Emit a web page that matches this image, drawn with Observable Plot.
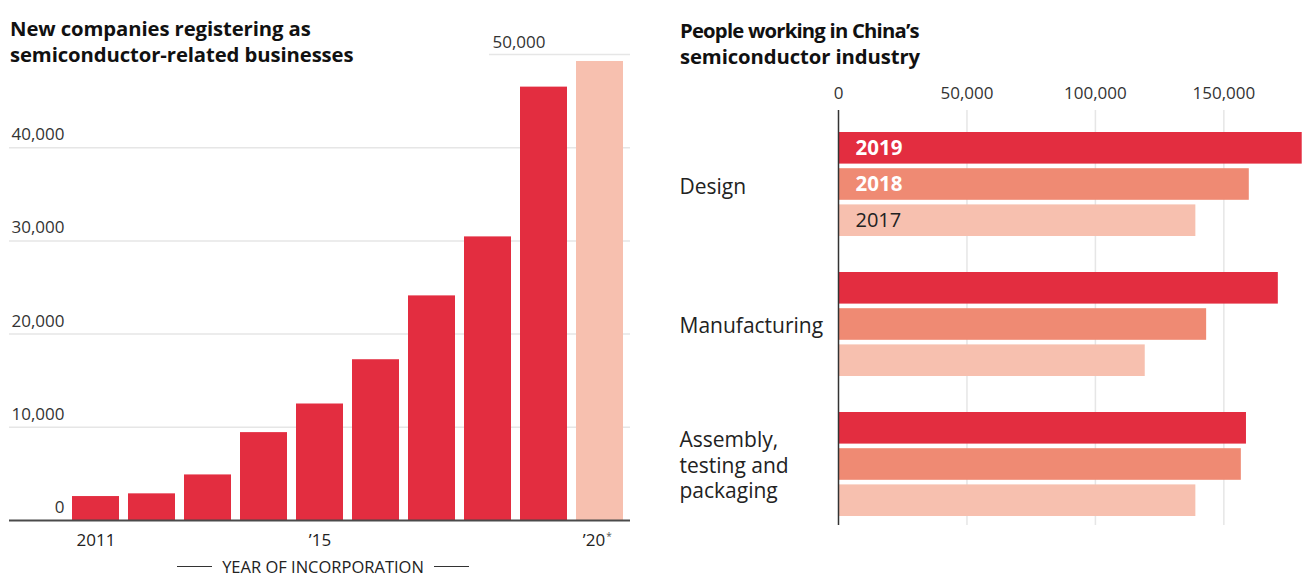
<!DOCTYPE html>
<html>
<head>
<meta charset="utf-8">
<script src="https://cdn.jsdelivr.net/npm/d3@7"></script>
<script src="https://cdn.jsdelivr.net/npm/@observablehq/plot@0.6"></script>
<style>
  html, body { margin: 0; padding: 0; background: #fff; }
  #root { position: relative; width: 1304px; height: 578px; overflow: hidden; font-family: "Open Sans", sans-serif; }
  .title { position: absolute; font-weight: 700; font-size: 20.3px; line-height: 25.5px; color: #111; white-space: nowrap; letter-spacing: -0.1px; }
  #xtitle { position: absolute; left: 177px; top: 555px; width: 292px; height: 22px; display: flex; align-items: center; justify-content: space-between; font-size: 16.5px; color: #222; }
  #xtitle .ln { width: 35px; height: 0; border-top: 1.5px solid #333; }
  .plot { position: absolute; top: 0; }
</style>
</head>
<body>
<div id="root">
  <div class="title" style="left:10px;top:16px;">New companies registering as<br>semiconductor-related businesses</div>
  <div class="title" style="left:680px;top:18px;"><span style="letter-spacing:-0.8px">People working in China’s</span><br>semiconductor industry</div>
  <div id="xtitle"><span class="ln"></span><span>YEAR OF INCORPORATION</span><span class="ln"></span></div>
</div>
<script>
// ---------- Data: left chart ----------
const years = [2011, 2012, 2013, 2014, 2015, 2016, 2017, 2018, 2019, 2020];
const newCompanies = [2570, 2860, 4890, 9430, 12500, 17250, 24100, 30430, 46500, 49250];
const yearStatus = ["actual", "actual", "actual", "actual", "actual", "actual", "actual", "actual", "actual", "estimate"];
const leftGridTicks = [0, 10000, 20000, 30000, 40000];
const leftTopTick = 50000;
const xLabelYears = [2011, 2015, 2020];
const xLabels = ["2011", "’15", "’20"];

// ---------- Data: right chart ----------
const sectors = ["Design", "Manufacturing", "Assembly, testing and packaging"];
const sectorLabels = ["Design", "Manufacturing", "Assembly,\ntesting and\npackaging"];
const workYears = [2019, 2018, 2017];
const workers2019 = [180500, 171200, 158800];
const workers2018 = [159900, 143300, 156800];
const workers2017 = [139100, 119400, 139100];
const rightTicks = [0, 50000, 100000, 150000];

// ---------- Colours ----------
const RED = "#e32d40";
const SALMON = "#ef8a73";
const LIGHT = "#f7c0af";
const GRID = "#e6e6e6";

const fmt = d3.format(",");
const root = document.getElementById("root");
const baseStyle = { fontFamily: "Open Sans, sans-serif", fontSize: "17px", color: "#333", background: "transparent", overflow: "visible" };

// ---------- Left chart ----------
const companyRows = years.map((y, i) => ({ year: y, value: newCompanies[i], status: yearStatus[i] }));
const xLabelRows = xLabelYears.map((y, i) => ({ year: y, label: xLabels[i] }));

const left = Plot.plot({
  width: 640,
  height: 578,
  marginLeft: 9,
  marginRight: 10,
  marginTop: 54,
  marginBottom: 58,
  style: baseStyle,
  x: { type: "band", domain: years, range: [66, 630], paddingInner: 0.16, paddingOuter: 0.08, axis: null },
  y: { domain: [0, 50000], axis: null },
  color: { domain: ["actual", "estimate"], range: [RED, LIGHT] },
  marks: [
    Plot.ruleY(leftGridTicks.slice(1), { stroke: GRID, strokeWidth: 1.5 }),
    Plot.ruleY([leftTopTick], { stroke: GRID, strokeWidth: 1.5, insetLeft: 480 }),
    Plot.barY(companyRows, { x: "year", y: "value", fill: "status" }),
    Plot.ruleY([0], { stroke: "#4a4a4a", strokeWidth: 2 }),
    Plot.text(leftGridTicks, { y: d => d, text: d => fmt(d), frameAnchor: "left", dx: 55, dy: -13, textAnchor: "end", lineAnchor: "middle", fill: "#333" }),
    Plot.text([leftTopTick], { y: d => d, text: d => fmt(d), frameAnchor: "left", dx: 483, dy: -12, textAnchor: "start", lineAnchor: "middle", fill: "#333" }),
    Plot.text(xLabelRows.slice(0, 2), { x: "year", text: "label", frameAnchor: "bottom", dy: 20, lineAnchor: "middle", fill: "#222" }),
    Plot.text(xLabelRows.slice(2), { x: "year", text: "label", frameAnchor: "bottom", dx: -6, dy: 20, lineAnchor: "middle", fill: "#222" }),
    Plot.text(xLabelRows.slice(2), { x: "year", text: () => "*", frameAnchor: "bottom", dx: 9, dy: 16, fontSize: 10, lineAnchor: "middle", fill: "#555" })
  ]
});
left.classList.add("plot");
left.style.left = "0px";
root.appendChild(left);

// ---------- Right chart ----------
const workerSeries = [workers2019, workers2018, workers2017];
const workerRows = [];
workYears.forEach((yr, j) => sectors.forEach((s, i) => workerRows.push({ sector: s, year: yr, value: workerSeries[j][i] })));
const sectorRows = sectors.map((s, i) => ({ sector: s, label: sectorLabels[i] }));

const ROW_STEP = 36.2, BAR_H = 32, BAND_H = 104.4;
const yearLabelMark = (yr, j) => Plot.text([{ year: yr, sector: sectors[0] }], {
  x: () => 0, y: "sector", text: d => String(d.year),
  dx: 17, dy: (j - 1) * ROW_STEP, textAnchor: "start", lineAnchor: "middle",
  fill: j < 2 ? "#fff" : "#222", fontWeight: j < 2 ? 700 : 400, fontSize: j < 2 ? 20.5 : 20
});

const right = Plot.plot({
  width: 644,
  height: 578,
  marginLeft: 178,
  marginRight: 1,
  marginTop: 110,
  marginBottom: 53,
  style: baseStyle,
  x: { domain: [0, 181000], axis: null },
  y: { type: "band", domain: sectors, range: [132, 517], paddingInner: 0.256, paddingOuter: 0, axis: null },
  color: { domain: workYears, range: [RED, SALMON, LIGHT] },
  marks: [
    Plot.ruleX(rightTicks.slice(1), { stroke: GRID, strokeWidth: 1.5 }),
    ...workYears.map((yr, j) => Plot.barX(workerRows.filter(r => r.year === yr), {
      x: "value", y: "sector", fill: "year",
      insetTop: j * ROW_STEP, insetBottom: BAND_H - j * ROW_STEP - BAR_H
    })),
    Plot.ruleX([0], { stroke: "#333", strokeWidth: 1.5 }),
    Plot.text(rightTicks, { x: d => d, text: d => fmt(d), frameAnchor: "top", dy: -17, lineAnchor: "middle", fill: "#333" }),
    ...workYears.map(yearLabelMark),
    Plot.text(sectorRows.slice(0, 1), { y: "sector", text: "label", frameAnchor: "left", dx: -159, dy: 3, textAnchor: "start", lineAnchor: "middle", fill: "#222", fontSize: 21 }),
    Plot.text(sectorRows.slice(1), { y: "sector", text: "label", frameAnchor: "left", dx: -159, textAnchor: "start", lineAnchor: "middle", lineHeight: 1.2, fill: "#222", fontSize: 21 })
  ]
});
right.classList.add("plot");
right.style.left = "660px";
root.appendChild(right);
</script>
</body>
</html>
